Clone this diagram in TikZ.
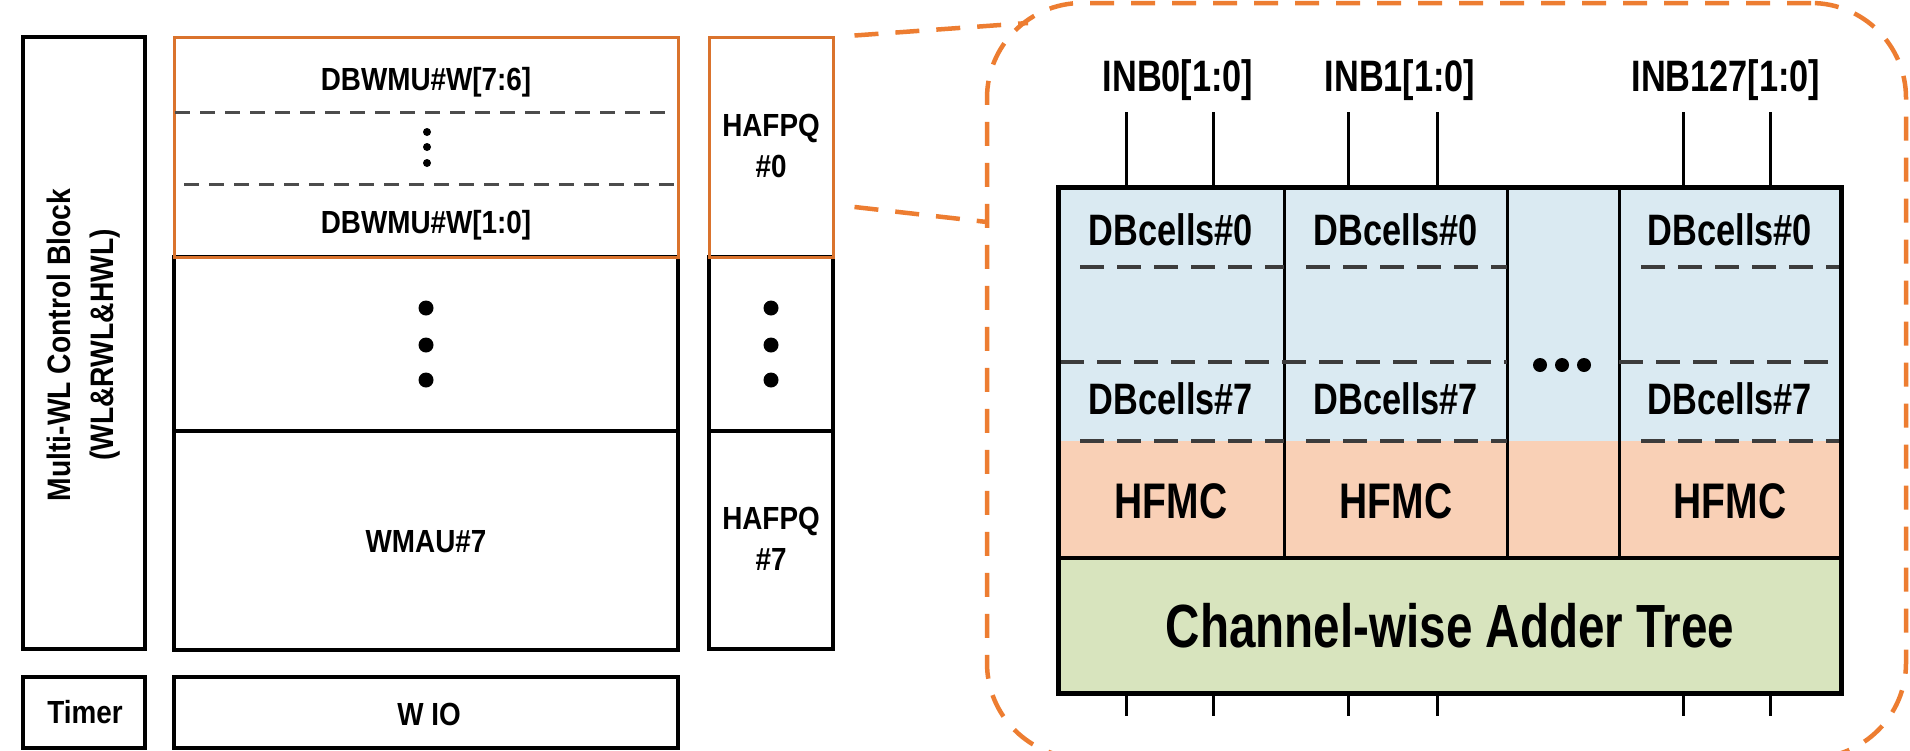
\documentclass[tikz,border=0pt]{standalone}
\usepackage{fontspec}
\setmainfont{Liberation Sans}
\newfontfamily\leftsf[FakeStretch=0.87]{Liberation Sans}
\newfontfamily\rightsf[FakeStretch=0.78]{Liberation Sans}
\definecolor{boxorange}{RGB}{218,115,45}
\definecolor{zoomorange}{RGB}{237,125,49}
\definecolor{cellblue}{RGB}{218,234,242}
\definecolor{cellpeach}{RGB}{249,208,182}
\definecolor{cellgreen}{RGB}{216,228,190}
\definecolor{dashgray}{RGB}{60,60,60}

\begin{document}
\begin{tikzpicture}[x=1pt, y=-1pt,
  blk/.style={draw, line width=3.5pt, inner sep=0pt},
  hlblk/.style={draw=boxorange, line width=3pt, inner sep=0pt},
  ltxt/.style={font={\leftsf\bfseries\fontsize{32}{41}\selectfont}, align=center, inner sep=0pt},
  rtxt/.style={font={\rightsf\bfseries\fontsize{44}{50}\selectfont}, inner sep=0pt},
  rowsep/.style={draw=black!70, line width=3pt, dash pattern=on 15pt off 10pt},
  cellsep/.style={draw=dashgray, line width=4pt, dash pattern=on 24pt off 13pt},
  zoomln/.style={draw=zoomorange, line width=4.5pt, dash pattern=on 24pt off 17pt},
  ]
  \path[use as bounding box, fill=white] (0,0) rectangle (1910,750);

  % left: weight memory column
  \node[blk, minimum width=122pt, minimum height=612pt] (ctrl) at (84,343) {};
  \node[blk, minimum width=504pt, minimum height=393pt] (wmau) at (426,453.5) {};
  \node[blk, minimum width=124pt, minimum height=392pt] (haf7) at (771,453) {};
  \draw[line width=3.5pt] (wmau.west |- 0,431) -- (wmau.east |- 0,431);
  \draw[line width=3.5pt] (haf7.west |- 0,431) -- (haf7.east |- 0,431);
  \node[hlblk, minimum width=504pt, minimum height=220pt] (dbw) at (426,147) {};
  \node[hlblk, minimum width=124pt, minimum height=220pt] (haf0) at (771,147) {};
  \node[blk, minimum width=122pt, minimum height=71pt] (timer) at (84,712.5) {};
  \node[blk, minimum width=504pt, minimum height=71pt] (wio) at (426,712.5) {};

  \draw[rowsep] (175,112) -- (674,112);
  \draw[rowsep] (184,184) -- (677,184);
  \foreach \dy in {132,147,163}
    \fill (427,\dy) circle (4pt);
  \foreach \dy in {308,345,380} {
    \fill (426,\dy) circle (7.5pt);
    \fill (771,\dy) circle (7.5pt);
  }

  \node[ltxt, rotate=90, font={\leftsf\bfseries\fontsize{32.5}{43}\selectfont}] (ctrltxt) at (84,345)
    {Multi-WL Control Block\\(WL\&RWL\&HWL)};
  \node[ltxt, anchor=base] (w76) at (426,90) {DBWMU\#W[7:6]};
  \node[ltxt, anchor=base] (w10) at (426,233) {DBWMU\#W[1:0]};
  \node[ltxt, anchor=base] (wmautxt) at (426,552) {WMAU\#7};
  \node[ltxt] (haf0txt) at (771,146) {HAFPQ\\\#0};
  \node[ltxt] (haf7txt) at (771,539) {HAFPQ\\\#7};
  \node[ltxt, anchor=base] (timertxt) at (85,723) {Timer};
  \node[ltxt, anchor=base] (wiotxt) at (429,725) {W IO};

  % right: zoomed array
  \node[zoomln, rounded corners=95pt, minimum width=919pt, minimum height=755pt, inner sep=0pt] (zoom) at (1446.5,380.5) {};
  \coordinate (zt) at (1028,23);
  \coordinate (zb) at (987,222);
  \draw[zoomln] ([xshift=20pt]haf0.north east) -- (zt);
  \draw[zoomln] ([xshift=20pt,yshift=-60pt]haf0.east) -- (zb);

  \fill[cellblue] (1058,187) rectangle (1841,441);
  \fill[cellpeach] (1058,441) rectangle (1841,558);
  \fill[cellgreen] (1058,558) rectangle (1841,693);
  \foreach \cx in {1284,1507,1619}
    \draw[line width=3pt] (\cx,187) -- (\cx,558);
  \draw[line width=4pt] (1058,558) -- (1841,558);
  \foreach \xa/\xb in {1080/1284,1306/1507,1641/1841} {
    \draw[cellsep] (\xa,267) -- (\xb,267);
    \draw[cellsep] (\xa,441) -- (\xb,441);
  }
  \draw[cellsep] (1060,362) -- (1507,362);
  \draw[cellsep] (1619,362) -- (1841,362);
  \node[draw, line width=5pt, minimum width=783pt, minimum height=506pt, inner sep=0pt] (arr) at (1449.5,440) {};

  \foreach \ix [count=\i] in {1126,1213,1348,1437,1683,1770} {
    \coordinate (in\i) at (\ix,112);
    \draw[line width=3pt] (in\i) -- (in\i |- arr.north);
    \draw[line width=3pt] (in\i |- arr.south) -- ++(0,20);
  }
  \node[rtxt, anchor=base] (inb0) at (1178,91) {INB0[1:0]};
  \node[rtxt, anchor=base] (inb1) at (1400,91) {INB1[1:0]};
  \node[rtxt, anchor=base] (inb127) at (1726,91) {INB127[1:0]};

  \foreach \cx/\nm in {1171/a,1396/b,1730/c} {
    \node[rtxt, anchor=base] (db0\nm) at (\cx,245) {DBcells\#0};
    \node[rtxt, anchor=base] (db7\nm) at (\cx,414) {DBcells\#7};
    \node[rtxt, anchor=base, font={\rightsf\bfseries\fontsize{50}{56}\selectfont}] (hf\nm) at (\cx,518) {HFMC};
  }
  \foreach \dx in {1540,1562,1584}
    \fill (\dx,365) circle (7pt);
  \node[rtxt, anchor=base, font={\rightsf\bfseries\fontsize{61}{68}\selectfont}] (tree) at (1450,647) {Channel-wise Adder Tree};
\end{tikzpicture}
\end{document}
